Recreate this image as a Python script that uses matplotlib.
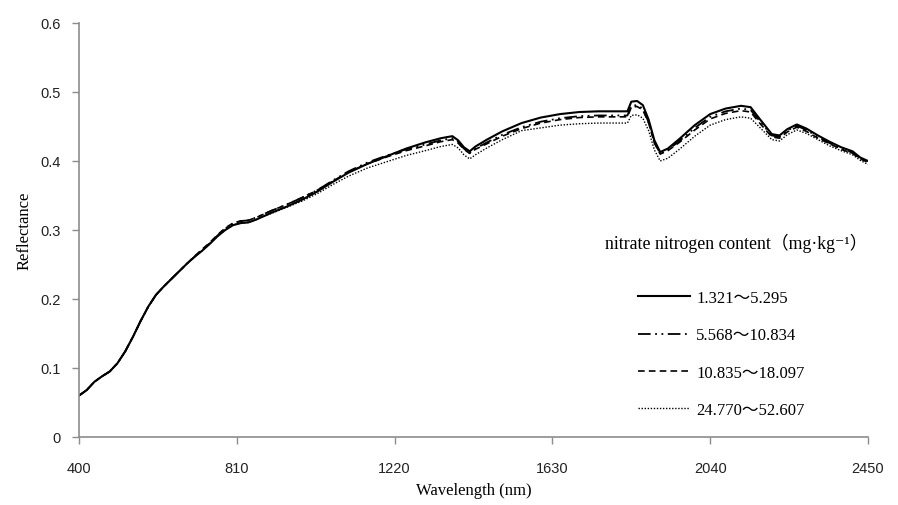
import matplotlib
matplotlib.use("Agg")
import matplotlib.pyplot as plt
from matplotlib.lines import Line2D

wavelength = [400, 420, 440, 460, 480, 500, 520, 540, 560, 580, 600, 620, 640, 660, 680, 700, 720, 740, 760, 780, 800,
              820, 840, 860, 880, 900, 940, 980, 1020, 1060, 1100, 1150, 1200, 1250, 1300,
              1340, 1370, 1385, 1400, 1415, 1430, 1460, 1500, 1550, 1600, 1650, 1700, 1750, 1800,
              1825, 1835, 1850, 1865, 1880, 1895, 1910, 1930, 1960, 2000, 2040, 2080, 2120, 2145, 2170,
              2200, 2220, 2240, 2265, 2290, 2320, 2350, 2380, 2410, 2430, 2450]

s_1321_5295 = [.060, .068, .080, .088, .095, .107, .124, .145, .168, .189, .206, .218, .229, .240, .251, .261, .270, .280, .291, .300, .307,
               .310, .311, .315, .320, .325, .334, .344, .356, .370, .383, .396, .407, .418, .427,
               .433, .436, .430, .420, .414, .421, .431, .443, .455, .463, .468, .471, .472, .472,
               .472, .486, .487, .481, .460, .430, .413, .418, .432, .452, .468, .476, .480, .478, .460,
               .439, .437, .446, .453, .447, .437, .428, .420, .414, .405, .400]

s_5568_10834 = [.060, .068, .080, .088, .095, .107, .124, .145, .168, .189, .206, .218, .229, .240, .251, .261, .271, .281, .292, .302, .309,
                .313, .314, .318, .323, .328, .337, .347, .358, .372, .385, .398, .408, .417, .424,
                .430, .433, .428, .418, .412, .418, .427, .438, .449, .457, .462, .465, .466, .466,
                .466, .480, .481, .476, .456, .427, .411, .416, .429, .448, .464, .472, .476, .474, .457,
                .437, .435, .444, .451, .445, .435, .426, .418, .412, .404, .399]

s_10835_18097 = [.060, .068, .080, .088, .095, .107, .124, .145, .168, .189, .206, .218, .229, .240, .251, .262, .272, .282, .293, .303, .310,
                 .313, .314, .318, .323, .328, .337, .347, .358, .371, .384, .396, .406, .415, .422,
                 .428, .431, .426, .417, .411, .417, .425, .436, .447, .455, .460, .463, .464, .464,
                 .464, .478, .479, .474, .455, .426, .410, .415, .427, .445, .461, .469, .473, .471, .454,
                 .435, .433, .442, .449, .443, .433, .425, .417, .411, .403, .398]

s_24770_52607 = [.060, .068, .080, .088, .095, .107, .124, .145, .168, .189, .206, .218, .229, .240, .251, .261, .270, .280, .291, .300, .307,
                 .310, .311, .315, .320, .324, .333, .342, .353, .366, .378, .390, .399, .408, .415,
                 .421, .424, .419, .409, .403, .409, .419, .431, .444, .448, .452, .454, .455, .455,
                 .455, .466, .467, .462, .444, .416, .400, .404, .417, .436, .452, .460, .464, .462, .448,
                 .431, .429, .438, .445, .440, .431, .422, .415, .409, .401, .395]

series_labels = ["1.321～5.295", "5.568～10.834", "10.835～18.097", "24.770～52.607"]
legend_title = "nitrate nitrogen content（mg·kg⁻¹）"
x_ticks = [400, 810, 1220, 1630, 2040, 2450]
y_ticks = [0, 0.1, 0.2, 0.3, 0.4, 0.5, 0.6]
y_tick_labels = ["0", "0.1", "0.2", "0.3", "0.4", "0.5", "0.6"]

serif = ["Liberation Serif", "Noto Sans CJK SC", "DejaVu Serif"]

fig = plt.figure(figsize=(8.98, 5.06), dpi=100)
ax = fig.add_axes([79 / 898, 68 / 506, 789 / 898, 414 / 506])

styles = [
    dict(linestyle="-", linewidth=1.5),
    dict(linestyle=(0, (7, 2.5, 1, 2.5, 1, 2.5)), linewidth=1.3),
    dict(linestyle=(0, (4, 2.5)), linewidth=1.2),
    dict(linestyle=(0, (1, 1.2)), linewidth=1.0),
]
all_series = [s_1321_5295, s_5568_10834, s_10835_18097, s_24770_52607]
for s, st in zip(all_series[::-1], styles[::-1]):
    ax.plot(wavelength, s, color="black", **st)

ax.set_xlim(400, 2450)
ax.set_ylim(0, 0.6)
ax.set_xticks(x_ticks)
ax.set_xticklabels([str(v) for v in x_ticks])
ax.set_yticks(y_ticks)
ax.set_yticklabels(y_tick_labels)

for side in ["top", "right"]:
    ax.spines[side].set_visible(False)
for side in ["left", "bottom"]:
    ax.spines[side].set_color("#8c8c8c")
    ax.spines[side].set_linewidth(1.2)
ax.tick_params(axis="both", colors="#8c8c8c", length=5, width=1.0, labelcolor="#222222",
               labelsize=10.5)
ax.tick_params(axis="y", pad=8)
ax.tick_params(axis="x", pad=12)
for lab in ax.get_xticklabels() + ax.get_yticklabels():
    lab.set_family(["Liberation Sans", "DejaVu Sans"])

ax.set_xlabel("Wavelength (nm)", family=serif, fontsize=12, labelpad=5)
ax.set_ylabel("Reflectance", family=serif, fontsize=12, labelpad=6)

fig.text(605 / 898, 1 - 243 / 506, legend_title, family=serif, fontsize=12.8,
         ha="left", va="center")

handles = [Line2D([], [], color="black", **st) for st in styles]
leg = ax.legend(handles, series_labels, loc="upper left",
                bbox_to_anchor=(623 / 898, 1 - 276 / 506), bbox_transform=fig.transFigure,
                frameon=False, handlelength=3.1, handletextpad=0.4, labelspacing=1.28,
                prop={"family": serif, "size": 12})

fig.savefig("out.png", dpi=100)
